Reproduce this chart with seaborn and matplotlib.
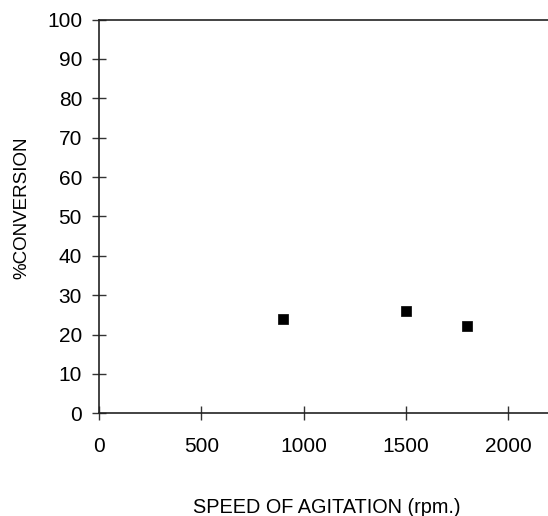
import matplotlib
matplotlib.use("Agg")
import matplotlib.pyplot as plt
import seaborn as sns
import pandas as pd

speed = [900, 1500, 1800]
conversion = [24.0, 26.0, 22.3]
x_ticks = [0, 500, 1000, 1500, 2000]
y_ticks = list(range(0, 101, 10))

df = pd.DataFrame({"speed": speed, "conversion": conversion})

sns.set_style("white")
plt.rcParams["font.family"] = ["Liberation Sans", "DejaVu Sans"]

fig = plt.figure(figsize=(5.48, 5.16), dpi=100)
ax = fig.add_axes([0.1807, 0.199, 0.8193, 0.763])

sns.scatterplot(data=df, x="speed", y="conversion", marker="s", s=42,
                color="black", edgecolor="black", linewidth=0.5, ax=ax)

ax.set_xlim(0, 2195)
ax.set_ylim(0, 100)
ax.set_xticks(x_ticks)
ax.set_yticks(y_ticks)
ax.tick_params(axis="both", direction="inout", length=9.5, width=1,
               color="#333333", labelsize=15, labelcolor="black",
               bottom=True, left=True)
ax.tick_params(axis="x", pad=12)
ax.tick_params(axis="y", pad=7.5)

for side in ["left", "bottom", "top"]:
    ax.spines[side].set_visible(True)
    ax.spines[side].set_color("#222222")
    ax.spines[side].set_linewidth(1.2)
ax.spines["right"].set_visible(False)

ax.set_xlabel("SPEED OF AGITATION (rpm.)", fontsize=14.3, color="black")
ax.set_ylabel("%CONVERSION", fontsize=13.5, color="black")
ax.xaxis.set_label_coords(0.508, -0.215)
ax.yaxis.set_label_coords(-0.154, 0.523)

fig.savefig("out.png", dpi=100)
